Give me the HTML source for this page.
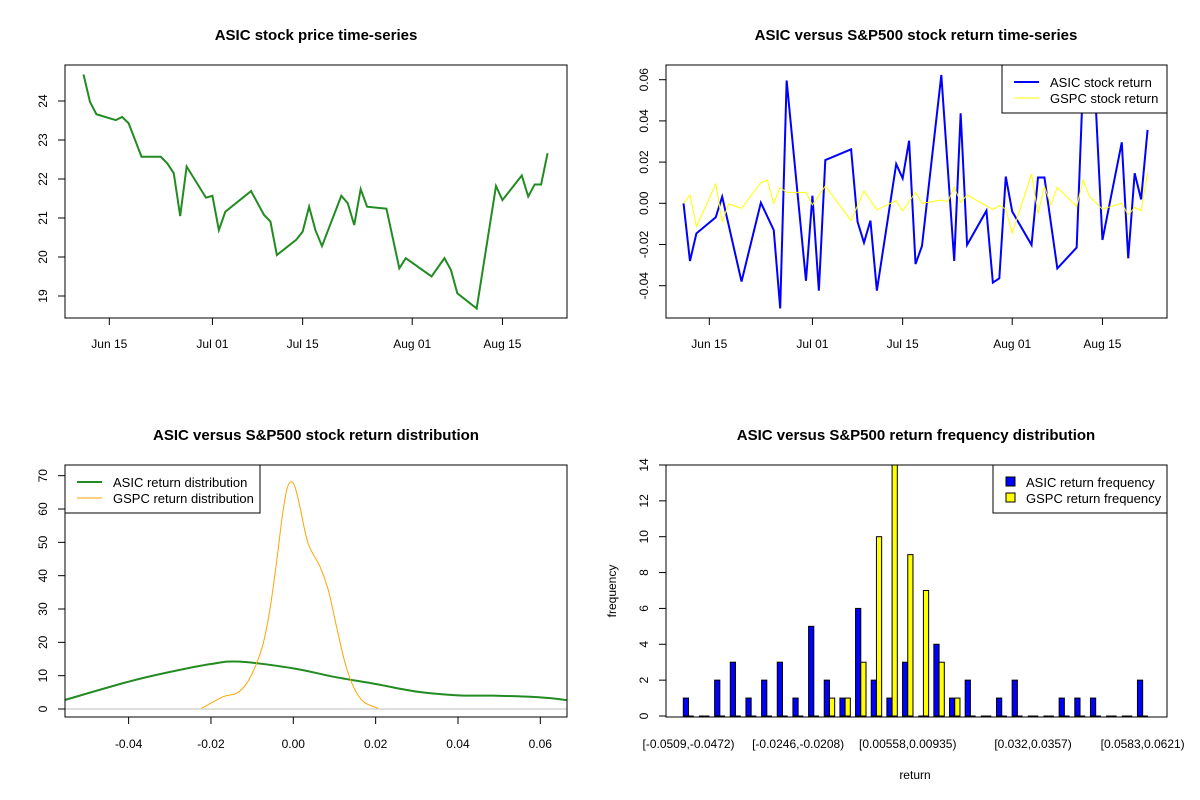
<!DOCTYPE html>
<html><head><meta charset="utf-8"><style>
html,body{margin:0;padding:0;background:#fff;}
svg{display:block;font-family:"Liberation Sans",Arial,sans-serif;}
</style></head><body>
<svg id="chart" width="1200" height="800" viewBox="0 0 1200 800" xmlns="http://www.w3.org/2000/svg"></svg>
<script>
// ---------- DATA ----------
// day numbers: day-of-June (Jul 1 = 31, Aug 1 = 62)
const priceDays = [11,12,13,15,16,17,18,20,23,24,25,26,27,30,31,32,33,37,39,40,41,44,45,46,47,48,51,52,53,54,55,58,60,61,65,67,68,69,72,75,76,79,80,81,82,83];
const priceVals = [24.68,23.98,23.66,23.56,23.51,23.59,23.43,22.57,22.57,22.40,22.15,21.05,22.32,21.52,21.57,20.69,21.16,21.69,21.08,20.91,20.05,20.44,20.65,21.29,20.68,20.28,21.57,21.38,20.82,21.74,21.29,21.24,19.71,19.97,19.50,19.97,19.67,19.07,18.68,21.82,21.46,22.09,21.55,21.86,21.86,22.66];
const asicRetDays = [11,12,13,16,17,20,23,25,26,27,30,31,32,33,37,38,39,40,41,44,45,46,47,48,51,53,54,55,58,59,60,61,62,65,66,67,69,72,73,74,75,76,79,80,81,82,83];
const asicRetVals = [0,-0.028,-0.0146,-0.0068,0.0032,-0.038,0.0003,-0.013,-0.051,0.0596,-0.0376,0.0037,-0.0424,0.021,0.0262,-0.0089,-0.0191,-0.0084,-0.0424,0.0191,0.0121,0.0304,-0.0295,-0.0207,0.0623,-0.028,0.0437,-0.0202,-0.0036,-0.0385,-0.0364,0.013,-0.004,-0.0202,0.0125,0.0125,-0.0316,-0.0215,0.06,0.055,0.045,-0.0178,0.0296,-0.0267,0.0146,0.0019,0.0356];
const gspcRetDays = [11,12,13,16,17,18,20,23,24,25,26,27,30,31,33,37,39,41,44,45,47,48,51,52,53,54,55,59,60,61,62,65,66,67,68,69,72,73,74,76,79,80,81,82,83];
const gspcRetVals = [0,0.004,-0.0113,0.0094,-0.0089,-0.0003,-0.0024,0.0101,0.0113,0,0.0076,0.0053,0.0053,-0.0008,0.0084,-0.0084,0.006,-0.0032,0.0013,-0.0037,0.0053,0,0.0016,0.0008,0.0078,0.0005,0.004,-0.003,-0.0011,-0.0028,-0.0146,0.0142,-0.0049,0.0081,-0.0008,0.0078,-0.0016,0.0113,0.0032,-0.0028,0,-0.0057,-0.002,-0.0036,0.0149];
const dateTickDays = [15,31,45,62,76];
const dateTickLabels = ["Jun 15","Jul 01","Jul 15","Aug 01","Aug 15"];
const priceTicks = [19,20,21,22,23,24];
const retTicks = [-0.04,-0.02,0,0.02,0.04,0.06];
const retTickLabels = ["-0.04","-0.02","0.00","0.02","0.04","0.06"];
// densities
const asicDensX = [-0.0555,-0.04,-0.03,-0.02,-0.013,0,0.0097,0.02,0.03,0.04,0.0486,0.06,0.0664];
const asicDensY = [2.7,8.2,11.1,13.5,14.2,12.2,9.7,7.5,5.2,4.1,4.0,3.5,2.7];
const gspcDensX = [-0.0223,-0.017,-0.0138,-0.0113,-0.0089,-0.0073,-0.0057,-0.004,-0.0028,-0.0016,-0.0006,0.0004,0.0016,0.0036,0.0065,0.0085,0.0105,0.0126,0.0146,0.017,0.0206];
const gspcDensY = [0.2,3.7,4.7,7.7,13.7,19.7,29.7,44.7,56.7,65.7,68.2,66.7,60.7,49.7,42.7,35.7,24.7,13.7,6.7,2.2,0.2];
const densXTicks = [-0.04,-0.02,0,0.02,0.04,0.06];
const densXLabels = ["-0.04","-0.02","0.00","0.02","0.04","0.06"];
const densYTicks = [0,10,20,30,40,50,60,70];
// histogram
const binLabels = ["[-0.0509,-0.0472)","[-0.0246,-0.0208)","[0.00558,0.00935)","[0.032,0.0357)","[0.0583,0.0621)"];
const binLabelIdx = [0,7,14,22,29];
const asicFreq = [1,0,2,3,1,2,3,1,5,2,1,6,2,1,3,0,4,1,2,0,1,2,0,0,1,1,1,0,0,2];
const gspcFreq = [0,0,0,0,0,0,0,0,0,1,1,3,10,14,9,7,3,1,0,0,0,0,0,0,0,0,0,0,0,0];
const freqTicks = [0,2,4,6,8,10,12,14];

// ---------- HELPERS ----------
const svg = document.getElementById('chart');
const NS = 'http://www.w3.org/2000/svg';
function mk(tag, attrs, parent){const e=document.createElementNS(NS,tag);for(const k in attrs)e.setAttribute(k,attrs[k]);(parent||svg).appendChild(e);return e;}
function txt(s, attrs, parent){const e=mk('text',attrs,parent);e.textContent=s;return e;}
function smooth(pts){let d='M'+pts[0][0]+','+pts[0][1];for(let i=0;i<pts.length-1;i++){const p0=pts[Math.max(0,i-1)],p1=pts[i],p2=pts[i+1],p3=pts[Math.min(pts.length-1,i+2)];const c1=[p1[0]+(p2[0]-p0[0])/6,p1[1]+(p2[1]-p0[1])/6],c2=[p2[0]-(p3[0]-p1[0])/6,p2[1]-(p3[1]-p1[1])/6];d+=' C'+c1[0]+','+c1[1]+' '+c2[0]+','+c2[1]+' '+p2[0]+','+p2[1];}return d;}

// ---------- PANEL 1: price ----------
const L={x0:65,x1:567,y0:65,y1:318}, R={x0:666,x1:1167,y0:65,y1:318};
const dayX = (d,off)=>109.3+(d-15)*6.445+off;
const priceY = v=>179-(v-22)*39;
let e;
e=mk('rect',{x:L.x0,y:L.y0,width:L.x1-L.x0,height:L.y1-L.y0,fill:'none',stroke:'#000','stroke-width':1});


e=txt('ASIC stock price time-series',{x:316,y:40,'text-anchor':'middle','font-size':15,'font-weight':'bold'});


e=mk('polyline',{points:priceDays.map((d,i)=>dayX(d,0)+','+priceY(priceVals[i])).join(' '),fill:'none',stroke:'#228b22','stroke-width':2});


function xDateAxis(off,name){
  mk('line',{x1:dayX(dateTickDays[0],off),x2:dayX(dateTickDays[dateTickDays.length-1],off),y1:318,y2:318,stroke:'#000'});
  dateTickDays.forEach((d,i)=>{
    mk('line',{x1:dayX(d,off),x2:dayX(d,off),y1:318,y2:325,stroke:'#000'});
    e=txt(dateTickLabels[i],{x:dayX(d,off),y:348,'text-anchor':'middle','font-size':12});
    
    
  });
}
xDateAxis(0,'price');
mk('line',{x1:65,x2:65,y1:priceY(19),y2:priceY(24),stroke:'#000'});
priceTicks.forEach(v=>{
  const y=priceY(v);
  mk('line',{x1:58,x2:65,y1:y,y2:y,stroke:'#000'});
  e=txt(String(v),{x:43,y:y+4,'text-anchor':'middle','font-size':12,transform:'rotate(-90 43 '+y+')'});
  
  
});

// ---------- PANEL 2: returns ----------
const retY = v=>203.3-v*2060;
e=mk('rect',{x:R.x0,y:R.y0,width:R.x1-R.x0,height:R.y1-R.y0,fill:'none',stroke:'#000'});


e=txt('ASIC versus S&P500 stock return time-series',{x:916,y:40,'text-anchor':'middle','font-size':15,'font-weight':'bold'});


e=mk('polyline',{points:asicRetDays.map((d,i)=>dayX(d,600)+','+retY(asicRetVals[i])).join(' '),fill:'none',stroke:'#0000ff','stroke-width':2});


e=mk('polyline',{points:gspcRetDays.map((d,i)=>dayX(d,600)+','+retY(gspcRetVals[i])).join(' '),fill:'none',stroke:'#ffff00','stroke-width':1});


xDateAxis(600,'return');
mk('line',{x1:666,x2:666,y1:retY(-0.04),y2:retY(0.06),stroke:'#000'});
retTicks.forEach((v,i)=>{
  const y=retY(v);
  mk('line',{x1:659,x2:666,y1:y,y2:y,stroke:'#000'});
  e=txt(retTickLabels[i],{x:644,y:y+4,'text-anchor':'middle','font-size':12,transform:'rotate(-90 644 '+y+')'});
  
  
});
let g=mk('g',{});


mk('rect',{x:1002,y:65,width:165,height:48,fill:'#fff',stroke:'#000'},g);
mk('line',{x1:1014,x2:1039,y1:82,y2:82,stroke:'#0000ff','stroke-width':2},g);
mk('line',{x1:1014,x2:1039,y1:98,y2:98,stroke:'#ffff00','stroke-width':1},g);
txt('ASIC stock return',{x:1050,y:87,'font-size':13},g);
txt('GSPC stock return',{x:1050,y:103,'font-size':13},g);

// ---------- PANEL 3: density ----------
const dX = v=>293.3+v*4117;
const dY = v=>709-v*3.333;
e=mk('line',{x1:65,x2:567,y1:dY(0),y2:dY(0),stroke:'#bebebe'});


e=mk('rect',{x:65,y:465,width:502,height:252,fill:'none',stroke:'#000'});


e=txt('ASIC versus S&P500 stock return distribution',{x:316,y:440,'text-anchor':'middle','font-size':15,'font-weight':'bold'});


const cp=mk('clipPath',{id:'clipD'});mk('rect',{x:65,y:465,width:502,height:252},cp);
e=mk('path',{d:smooth(asicDensX.map((x,i)=>[dX(x),dY(asicDensY[i])])),fill:'none',stroke:'#228b22','stroke-width':2,'clip-path':'url(#clipD)'});


e=mk('path',{d:smooth(gspcDensX.map((x,i)=>[dX(x),dY(gspcDensY[i])])),fill:'none',stroke:'#ffa500','stroke-width':1,'clip-path':'url(#clipD)'});


mk('line',{x1:dX(-0.04),x2:dX(0.06),y1:717,y2:717,stroke:'#000'});
densXTicks.forEach((v,i)=>{
  mk('line',{x1:dX(v),x2:dX(v),y1:717,y2:724,stroke:'#000'});
  e=txt(densXLabels[i],{x:dX(v),y:748,'text-anchor':'middle','font-size':12});
  
  
});
mk('line',{x1:65,x2:65,y1:dY(0),y2:dY(70),stroke:'#000'});
densYTicks.forEach(v=>{
  const y=dY(v);
  mk('line',{x1:58,x2:65,y1:y,y2:y,stroke:'#000'});
  e=txt(String(v),{x:43,y:y+4,'text-anchor':'middle','font-size':12,transform:'rotate(-90 43 '+y+')'});
  
  
});
g=mk('g',{});


mk('rect',{x:65,y:465,width:195,height:48,fill:'#fff',stroke:'#000'},g);
mk('line',{x1:77,x2:102,y1:482,y2:482,stroke:'#228b22','stroke-width':2},g);
mk('line',{x1:77,x2:102,y1:498,y2:498,stroke:'#ffa500','stroke-width':1},g);
txt('ASIC return distribution',{x:113,y:487,'font-size':13},g);
txt('GSPC return distribution',{x:113,y:503,'font-size':13},g);

// ---------- PANEL 4: histogram ----------
const u=5.22, bx0=683.3-u;
const gX = i=>bx0+(i*3+1)*u;
const fY = v=>716-v*17.93;
e=txt('ASIC versus S&P500 return frequency distribution',{x:916,y:440,'text-anchor':'middle','font-size':15,'font-weight':'bold'});


function bar(x,v,fill,name){
  if(v===0){
    e=mk('line',{x1:x,x2:x+u,y1:fY(0),y2:fY(0),stroke:'#000','stroke-width':1});
  } else {
    e=mk('rect',{x:x,y:fY(v),width:u,height:fY(0)-fY(v),fill:fill,stroke:'#000','stroke-width':1});
  }
  return e;
}
asicFreq.forEach((v,i)=>{
  e=bar(gX(i),v,'#0000ff');
  
  
});
gspcFreq.forEach((v,i)=>{
  e=bar(gX(i)+u,v,'#ffff00');
  
  
});
e=mk('rect',{x:666,y:465,width:501,height:252,fill:'none',stroke:'#000'});


mk('line',{x1:666,x2:666,y1:fY(0),y2:fY(14),stroke:'#000'});
freqTicks.forEach(v=>{
  const y=fY(v);
  mk('line',{x1:659,x2:666,y1:y,y2:y,stroke:'#000'});
  e=txt(String(v),{x:644,y:y+4,'text-anchor':'middle','font-size':12,transform:'rotate(-90 644 '+y+')'});
  
  
});
binLabelIdx.forEach((idx,i)=>{
  e=txt(binLabels[i],{x:gX(idx)+u,y:748,'text-anchor':'middle','font-size':12});
  
  
});
e=txt('return',{x:915,y:779,'text-anchor':'middle','font-size':12});


e=txt('frequency',{x:616,y:591,'text-anchor':'middle','font-size':12,transform:'rotate(-90 616 591)'});


g=mk('g',{});


mk('rect',{x:993,y:465,width:174,height:48,fill:'#fff',stroke:'#000'},g);
mk('rect',{x:1006,y:477,width:9,height:9,fill:'#0000ff',stroke:'#000'},g);
mk('rect',{x:1006,y:493,width:9,height:9,fill:'#ffff00',stroke:'#000'},g);
txt('ASIC return frequency',{x:1026,y:487,'font-size':13},g);
txt('GSPC return frequency',{x:1026,y:503,'font-size':13},g);
</script>
</body></html>
